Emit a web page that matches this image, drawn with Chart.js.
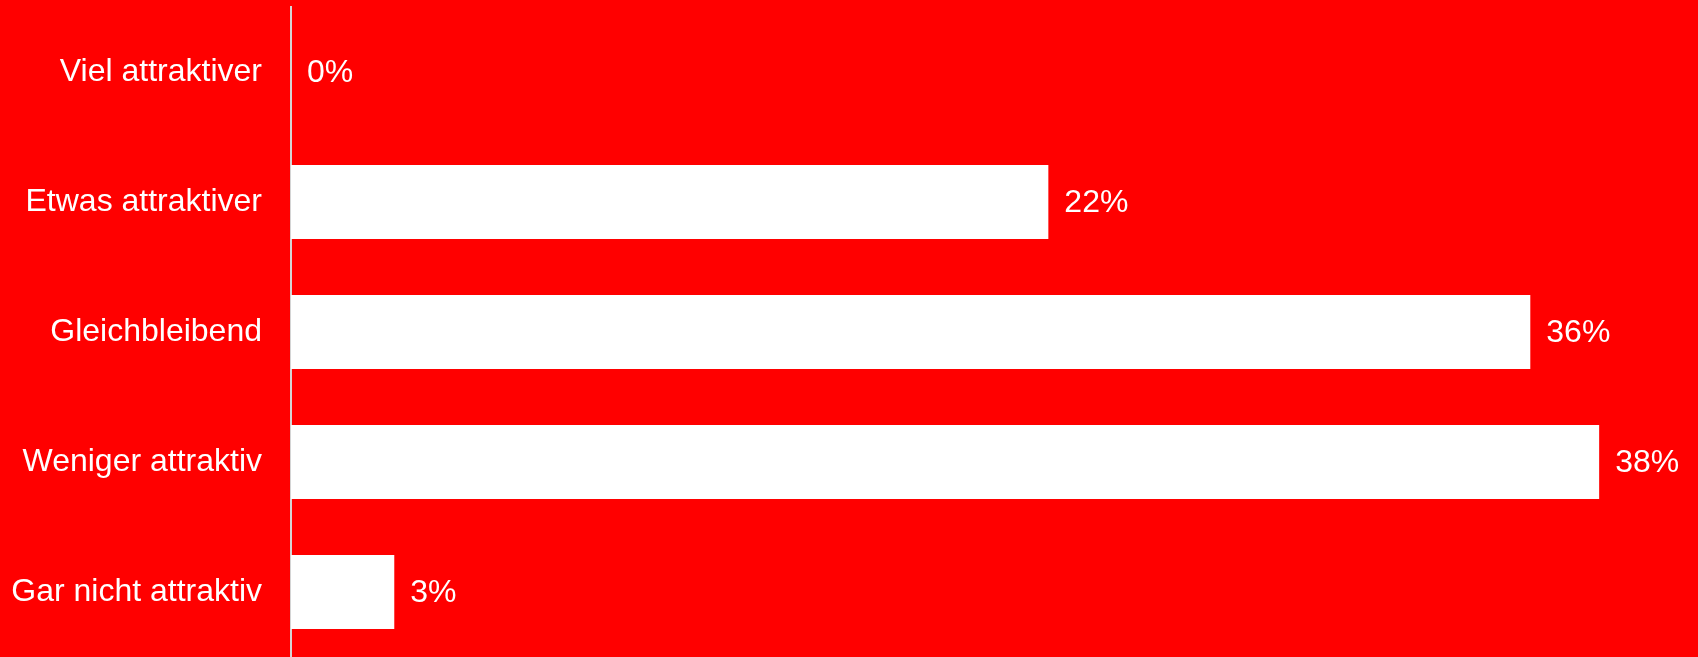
<!DOCTYPE html>
<html>
<head>
<meta charset="utf-8">
<script src="https://cdn.jsdelivr.net/npm/chart.js@4"></script>
<style>
    html, body { margin: 0; padding: 0; background: #ff0000; }
    #wrap { width: 1698px; height: 657px; position: relative; }
</style>
</head>
<body>
<div id="wrap"><canvas id="attractChart"></canvas></div>
<script>
// Werte aus der Vorlage
const categories = ['Viel attraktiver', 'Etwas attraktiver', 'Gleichbleibend', 'Weniger attraktiv', 'Gar nicht attraktiv'];
const shares = [0, 22, 36, 38, 3];

const FONT = '"Liberation Sans", Arial, sans-serif';

// draws "xx%" right of every bar
const valueLabels = {
    id: 'valueLabels',
    afterDatasetsDraw(chart) {
        const ctx = chart.ctx;
        const meta = chart.getDatasetMeta(0);
        ctx.save();
        ctx.font = '32px ' + FONT;
        ctx.fillStyle = '#ffffff';
        ctx.textAlign = 'left';
        ctx.textBaseline = 'middle';
        meta.data.forEach((bar, i) => {
            ctx.fillText(shares[i] + '%', bar.x + 16, bar.y + 1);
        });
        ctx.restore();
    }
};

new Chart(document.getElementById('attractChart').getContext('2d'), {
    type: 'bar',
    data: {
        labels: categories,
        datasets: [{
            data: shares,
            backgroundColor: '#ffffff',
            borderWidth: 0,
            categoryPercentage: 1,
            barPercentage: 0.57
        }]
    },
    options: {
        indexAxis: 'y',
        responsive: true,
        maintainAspectRatio: false,
        animation: false,
        layout: {
            padding: { top: 7, right: 30, bottom: 0, left: 0 }
        },
        plugins: {
            legend: { display: false },
            tooltip: { enabled: false }
        },
        scales: {
            x: {
                display: false,
                min: 0,
                max: 40
            },
            y: {
                grid: { display: false, drawTicks: false },
                border: { display: true, color: '#d4d4d4', width: 2 },
                ticks: {
                    color: '#ffffff',
                    padding: 29,
                    font: { family: FONT, size: 32 }
                },
                afterFit(scale) {
                    // fixed label column, no extra vertical padding from tick labels
                    scale.width = 291;
                    scale.paddingTop = 0;
                    scale.paddingBottom = 0;
                }
            }
        }
    },
    plugins: [valueLabels]
});
</script>
</body>
</html>
